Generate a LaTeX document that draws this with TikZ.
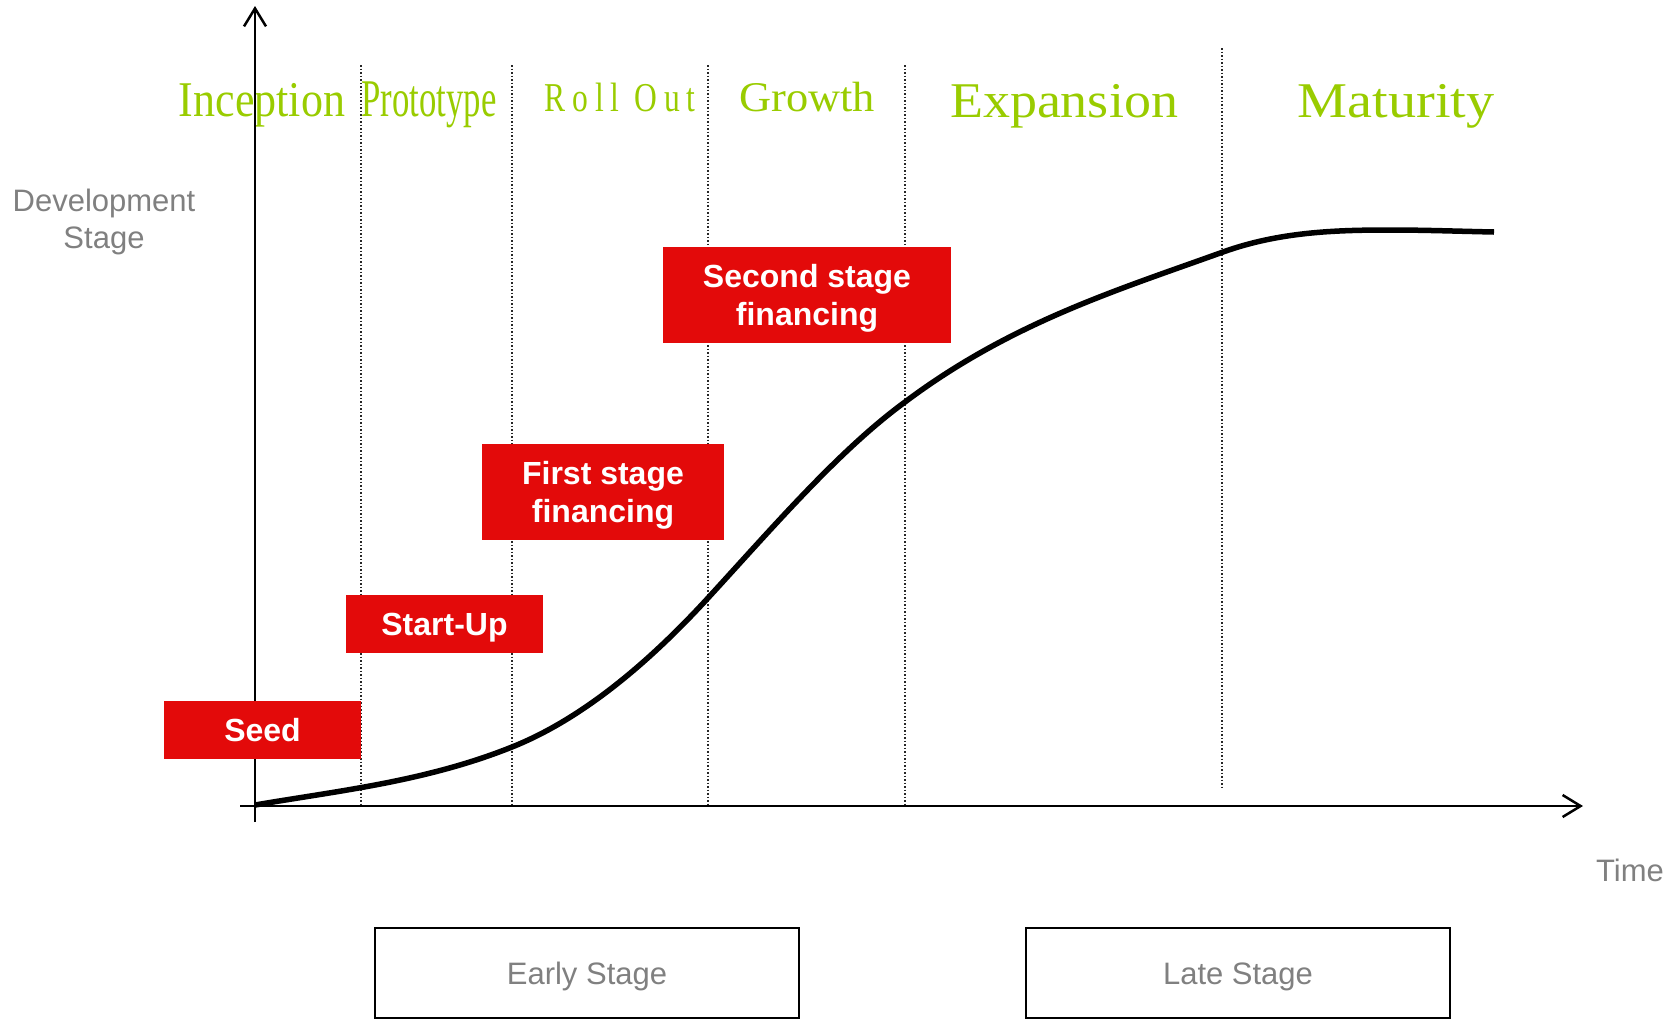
\documentclass[tikz,border=0pt]{standalone}
\usepackage{fontspec}
\usepackage{graphicx}
\setmainfont{Liberation Serif}
\newfontfamily\headfont{Liberation Serif}
\newfontfamily\labelfont{Liberation Sans}
\usetikzlibrary{arrows.meta}
\definecolor{phasegreen}{RGB}{153,204,0}
\definecolor{fundred}{RGB}{227,10,10}
\definecolor{labelgray}{RGB}{128,128,128}

\begin{document}
\begin{tikzpicture}[x=1pt,y=-1pt,
  phase/.style={text=phasegreen, anchor=base, inner sep=0pt},
  fundbox/.style={fill=fundred, text=white, inner sep=0pt, align=center,
    text depth=0pt, font=\labelfont\bfseries\fontsize{32}{38}\selectfont},
  graylabel/.style={text=labelgray, inner sep=0pt,
    font=\labelfont\fontsize{31}{37}\selectfont},
  stagebox/.style={draw=black, line width=1.5pt, minimum width=424pt,
    minimum height=90pt, inner sep=0pt, text height=22pt, text depth=0pt,
    text=labelgray, font=\labelfont\fontsize{31}{37}\selectfont},
  axis/.style={line width=2.5pt,
    -{Straight Barb[length=18pt,width=22pt,line width=2.5pt]}},
  divider/.style={line width=1.5pt, dash pattern=on 1.5pt off 2pt, black!85},
  growthcurve/.style={line width=5.5pt, line join=round, line cap=butt}
]
\useasboundingbox (0,0) rectangle (1679,1018);

% phase names along the top
\node[phase] (inception) at (262,116)
  {\headfont\fontsize{50}{50}\selectfont\scalebox{0.88}[1]{Inception}};
\node[phase] (prototype) at (429,116)
  {\headfont\fontsize{53}{53}\selectfont\scalebox{0.655}[1]{Prototype}};
\node[phase] (rollout) at (620,111)
  {\headfont\fontsize{41}{41}\selectfont\scalebox{0.77}[1]{\addfontfeature{LetterSpace=22}Roll Out}};
\node[phase] (growth) at (807,111)
  {\headfont\fontsize{42.3}{42.3}\selectfont\scalebox{1.05}[1]{Growth}};
\node[phase] (expansion) at (1064,117)
  {\headfont\fontsize{50}{50}\selectfont\scalebox{1.08}[1]{Expansion}};
\node[phase] (maturity) at (1396,117)
  {\headfont\fontsize{50}{50}\selectfont\scalebox{1.125}[1]{Maturity}};

% dotted phase dividers
\foreach \xd in {361,512,708,905}
  \draw[divider] (\xd,65) -- (\xd,806);
\draw[divider] (1222,48) -- (1222,790);

% axes
\coordinate (origin) at (255,806);
\coordinate (ytop) at (255,6);
\coordinate (ybot) at (255,822);
\coordinate (xleft) at (240,806);
\coordinate (xright) at (1583,806);
\draw[axis] (ybot) -- (ytop);
\draw[axis] (xleft) -- (xright);

% axis labels
\node[graylabel, align=center, anchor=north] (ylabel) at (104,188.5)
  {Development\\Stage};
\node[graylabel, anchor=base] (xlabel) at (1630,881) {Time};

% development curve: S-shaped growth built from tangent-matched Bezier pieces
\draw[growthcurve] (255,805)
  .. controls (340.7,790.4) and (426.3,781.3) .. (512,747)
  .. controls (577.3,720.9) and (642.7,669.2) .. (708,598)
  .. controls (773.7,526.4) and (839.3,450) .. (905,402)
  .. controls (1011,322.5) and (1117,290.2) .. (1223,252)
  .. controls (1278.7,232) and (1334.3,230) .. (1390,230)
  .. controls (1424.7,230) and (1459.3,231.3) .. (1494,232);

% financing rounds
\node[fundbox, minimum width=197pt, minimum height=58pt]
  (seed) at (262.5,730) {Seed};
\node[fundbox, minimum width=197pt, minimum height=58pt]
  (startup) at (444.5,624) {Start-Up};
\node[fundbox, minimum width=242pt, minimum height=96pt]
  (first) at (603,492) {First stage\\financing};
\node[fundbox, minimum width=288pt, minimum height=96pt]
  (second) at (807,295) {Second stage\\financing};

% stage groupings
\node[stagebox] (early) at (587,973) {Early Stage};
\node[stagebox] (late) at (1238,973) {Late Stage};
\end{tikzpicture}
\end{document}
